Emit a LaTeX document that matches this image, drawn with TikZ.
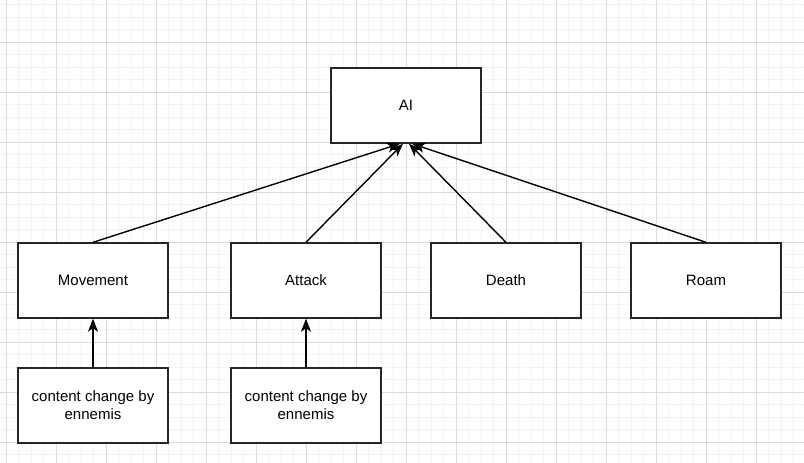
\documentclass[tikz,border=0pt]{standalone}
\usepackage{fontspec}
\setmainfont{Liberation Sans}
\usetikzlibrary{arrows.meta}
\definecolor{minorgrid}{HTML}{F3F3F3}
\definecolor{majorgrid}{HTML}{DADADA}
\tikzset{
    box/.style={draw=black!85, line width=1.4pt, fill=white, minimum width=150pt, minimum height=75pt,
        inner sep=0pt, align=center, font=\fontsize{15}{18}\selectfont},
    link/.style={line width=1.4pt, -{Stealth[length=13pt, width=10pt, inset=3.5pt]}}
}
\begin{document}
\begin{tikzpicture}[x=1pt, y=-1pt]
        \useasboundingbox (0,0) rectangle (804,463);
        \clip (0,0) rectangle (804,463);

        % Draw the background grid
        \foreach \k in {0,...,64} {
            \draw[minorgrid, line width=1pt] (6+12.5*\k, 0) -- (6+12.5*\k, 463);
        }
        \foreach \k in {-3,...,33} {
            \draw[minorgrid, line width=1pt] (0, 42+12.5*\k) -- (804, 42+12.5*\k);
        }
        \foreach \k in {0,...,16} {
            \draw[majorgrid, line width=1pt] (6+50*\k, 0) -- (6+50*\k, 463);
        }
        \foreach \k in {-1,...,8} {
            \draw[majorgrid, line width=1pt] (0, 42+50*\k) -- (804, 42+50*\k);
        }

        % Draw the boxes
        \node[box] (ai) at (406,105.5) {AI};
        \node[box] (movement) at (93,280.5) {Movement};
        \node[box] (attack) at (306,280.5) {Attack};
        \node[box] (death) at (506,280.5) {Death};
        \node[box] (roam) at (706,280.5) {Roam};
        \node[box] (movecontent) at (93,405.5) {content change by\\ennemis};
        \node[box] (attackcontent) at (306,405.5) {content change by\\ennemis};

        % Draw the links up to AI
        \draw[link] (movement.north) -- ([xshift=-6pt]ai.south);
        \draw[link] (attack.north) -- ([xshift=-3pt]ai.south);
        \draw[link] (death.north) -- ([xshift=3pt]ai.south);
        \draw[link] (roam.north) -- ([xshift=6pt]ai.south);

        % Draw the links from the content boxes
        \draw[link] (movecontent) -- (movement);
        \draw[link] (attackcontent) -- (attack);
    \end{tikzpicture}
\end{document}
